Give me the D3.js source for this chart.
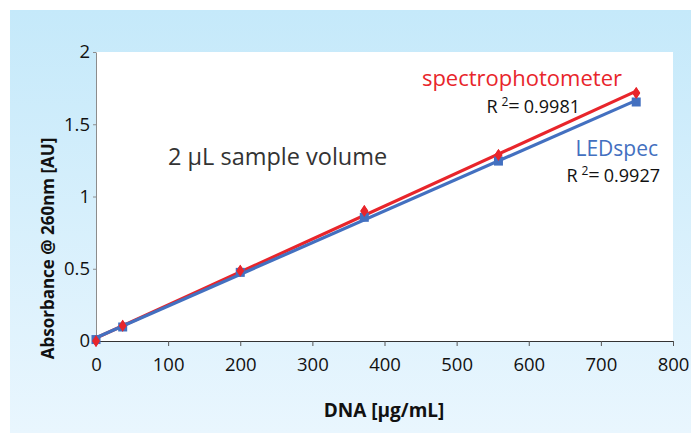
<!DOCTYPE html>
<html>
<head>
<meta charset="utf-8">
<script src="https://cdn.jsdelivr.net/npm/d3@7"></script>
<style>
  html, body { margin: 0; padding: 0; background: #fff; }
  svg { display: block; }
  text { font-family: "Open Sans", "Noto Sans", sans-serif; }
</style>
</head>
<body>
<svg id="chart" width="691" height="433"></svg>
<script>
// DNA concentration (µg/mL) for each standard
const concentrations = [0, 37, 200, 372, 558, 749];
// Absorbance at 260 nm measured by each instrument
const spectroValues = [0.0, 0.106, 0.487, 0.90, 1.287, 1.716];
const ledValues = [0.01, 0.097, 0.475, 0.856, 1.245, 1.654];
const xTicks = [0, 100, 200, 300, 400, 500, 600, 700, 800];
const yTicks = [0, 0.5, 1, 1.5, 2];
const seriesNames = ["spectrophotometer", "LEDspec"];
const rSquared = ["0.9981", "0.9927"];

const svg = d3.select("#chart");
const W = 691, H = 433;
const plot = { left: 96, right: 673, top: 52, bottom: 341 };

// Background panel with a soft vertical gradient
const defs = svg.append("defs");
const grad = defs.append("linearGradient")
  .attr("id", "bg").attr("x1", 0).attr("y1", 0).attr("x2", 0).attr("y2", 1);
grad.append("stop").attr("offset", "0%").attr("stop-color", "#c5e9fa");
grad.append("stop").attr("offset", "100%").attr("stop-color", "#e9f6fe");
svg.append("rect").attr("x", 10).attr("y", 10)
  .attr("width", W - 10).attr("height", H - 10).attr("fill", "url(#bg)");

// White plotting area
svg.append("rect")
  .attr("x", plot.left).attr("y", plot.top)
  .attr("width", plot.right - plot.left).attr("height", plot.bottom - plot.top)
  .attr("fill", "#fff");

const x = d3.scaleLinear().domain([0, 800]).range([plot.left, plot.right]);
const y = d3.scaleLinear().domain([0, 2]).range([plot.bottom, plot.top]);

// Y axis
const yAxis = svg.append("g")
  .attr("transform", `translate(${plot.left},0)`)
  .call(d3.axisLeft(y).tickValues(yTicks).tickSizeInner(3).tickSizeOuter(0)
    .tickFormat(d3.format("~g")));
yAxis.select(".domain").attr("stroke", "#8c8c8c");
yAxis.selectAll(".tick line").attr("stroke", "#8c8c8c");
yAxis.selectAll(".tick text")
  .attr("font-size", 18.5).attr("fill", "#111").attr("x", -6);

// X axis
const xAxis = svg.append("g")
  .attr("transform", `translate(0,${plot.bottom})`)
  .call(d3.axisBottom(x).tickValues(xTicks).tickSizeInner(5).tickSizeOuter(0));
xAxis.select(".domain").attr("stroke", "#333").attr("stroke-width", 1.2);
xAxis.selectAll(".tick line").attr("stroke", "#555");
xAxis.selectAll(".tick text")
  .attr("font-size", 18.5).attr("fill", "#111").attr("y", 17);

// Axis titles
svg.append("text")
  .attr("transform", `translate(54,${(plot.top + plot.bottom) / 2 + 52}) rotate(-90)`)
  .attr("text-anchor", "middle")
  .attr("font-size", 17).attr("font-weight", "bold").attr("fill", "#111")
  .text("Absorbance @ 260nm [AU]");
svg.append("text")
  .attr("x", 384).attr("y", 417)
  .attr("text-anchor", "middle")
  .attr("font-size", 19).attr("font-weight", "bold").attr("fill", "#111")
  .text("DNA [µg/mL]");

// Least-squares trend line for a series
function fit(xs, ys) {
  const mx = d3.mean(xs), my = d3.mean(ys);
  let sxy = 0, sxx = 0;
  xs.forEach((v, i) => { sxy += (v - mx) * (ys[i] - my); sxx += (v - mx) ** 2; });
  const slope = sxy / sxx;
  return { slope, intercept: my - slope * mx };
}

const series = [
  { name: seriesNames[0], values: spectroValues, color: "#e8252b", marker: "diamond" },
  { name: seriesNames[1], values: ledValues, color: "#4370c0", marker: "square" }
];

const xExtent = d3.extent(concentrations);
series.forEach(s => {
  const f = fit(concentrations, s.values);
  s.trend = xExtent.map(c => [c, f.intercept + f.slope * c]);
});

const line = d3.line().x(d => x(d[0])).y(d => y(d[1]));
const diamond = d => `M${x(d[0])},${y(d[1]) - 6}L${x(d[0]) + 4},${y(d[1])}L${x(d[0])},${y(d[1]) + 6}L${x(d[0]) - 4},${y(d[1])}Z`;

// Markers and trend lines; red first, blue drawn over it
series.forEach(s => {
  const g = svg.append("g");
  const pts = concentrations.map((c, i) => [c, s.values[i]]);
  if (s.marker === "diamond") {
    g.selectAll("path.m").data(pts).join("path").attr("class", "m")
      .attr("d", diamond).attr("fill", s.color);
  } else {
    g.selectAll("rect").data(pts).join("rect")
      .attr("x", d => x(d[0]) - 4.5).attr("y", d => y(d[1]) - 4.5)
      .attr("width", 9).attr("height", 9)
      .attr("fill", s.color);
  }
  g.append("path").datum(s.trend)
    .attr("d", line).attr("fill", "none")
    .attr("stroke", s.color).attr("stroke-width", 3.2);
});

// Diamonds stay visible on top of the lines
svg.append("g").selectAll("path")
  .data(concentrations.map((c, i) => [c, spectroValues[i]]))
  .join("path")
  .attr("d", diamond)
  .attr("fill", "#e8252b");

// Annotations
svg.append("text").attr("x", 168).attr("y", 165)
  .attr("font-size", 23.5).attr("fill", "#333")
  .text("2 µL sample volume");

function rLabel(xr, yb, val) {
  const t = svg.append("text").attr("x", xr).attr("y", yb)
    .attr("text-anchor", "end").attr("font-size", 18).attr("fill", "#111");
  t.append("tspan").text("R");
  t.append("tspan").attr("font-size", 12).attr("dy", -7).attr("dx", 4).text("2");
  t.append("tspan").attr("dy", 7).attr("font-size", 20).text("=");
  t.append("tspan").attr("dx", 4).text(val);
}

svg.append("text").attr("x", 622).attr("y", 86)
  .attr("text-anchor", "end").attr("font-size", 22).attr("fill", "#e8252b")
  .text(seriesNames[0]);
rLabel(580, 113, rSquared[0]);

svg.append("text").attr("x", 658).attr("y", 156)
  .attr("text-anchor", "end").attr("font-size", 21).attr("fill", "#4370c0")
  .text(seriesNames[1]);
rLabel(660, 182, rSquared[1]);
</script>
</body>
</html>
